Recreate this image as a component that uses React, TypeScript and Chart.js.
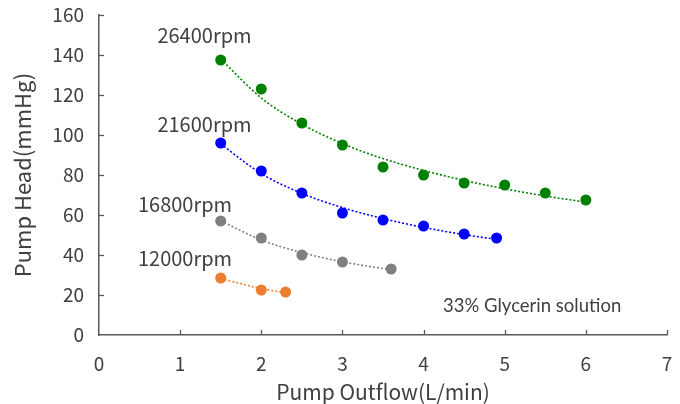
import React, { useEffect, useRef } from "react";
import { Chart, registerables } from "chart.js";

Chart.register(...registerables);

// ---- data ----
const flow26400 = [1.5, 2, 2.5, 3, 3.5, 4, 4.5, 5, 5.5, 6];
const head26400 = [137.5, 123, 106, 95, 84, 80, 76, 75, 71, 67.5];
const trend26400 = [138, 118.5, 105.4, 95.7, 88.2, 82.3, 77.3, 73.1, 69.5, 66.4];

const flow21600 = [1.5, 2, 2.5, 3, 3.5, 4, 4.5, 4.9];
const head21600 = [96, 82, 71, 61, 57.5, 54.5, 50.5, 48.5];
const trend21600 = [95.5, 80.7, 70.8, 63.7, 58.2, 53.8, 50.2, 47.8];

const flow16800 = [1.5, 2, 2.5, 3, 3.6];
const head16800 = [57, 48.5, 40, 36.5, 33];
const trend16800 = [57.1, 47.5, 41.2, 36.6, 32.6];

const flow12000 = [1.5, 2, 2.3];
const head12000 = [28.5, 22.5, 21.5];
const trend12000 = [28.2, 23.2, 21.1];

const seriesNames = ["26400rpm", "21600rpm", "16800rpm", "12000rpm"];
const seriesColors = ["#008000", "#0000ff", "#808080", "#ed7d31"];
const noteText = "33% Glycerin solution";
const xTitle = "Pump Outflow(L/min)";
const yTitle = "Pump Head(mmHg)";

const TEXT = "#404040";
const AXIS = "#595959";
const JP = "'Noto Sans CJK JP', 'Noto Sans', sans-serif";

const toPts = (xs: number[], ys: number[]) => xs.map((x, i) => ({ x, y: ys[i] }));

export default function App() {
  const ref = useRef<HTMLCanvasElement | null>(null);

  useEffect(() => {
    document.body.style.margin = "0";
    const canvas = ref.current;
    if (!canvas) return;

    const groups = [
      [flow26400, head26400, trend26400],
      [flow21600, head21600, trend21600],
      [flow16800, head16800, trend16800],
      [flow12000, head12000, trend12000],
    ];

    const datasets: any[] = [];
    groups.forEach(([xs, ys, ts], i) => {
      datasets.push({
        label: seriesNames[i] + " trend",
        data: toPts(xs, ts),
        showLine: true,
        borderColor: seriesColors[i],
        borderWidth: 1.6,
        borderDash: [2, 2],
        pointRadius: 0,
        cubicInterpolationMode: "monotone",
        fill: false,
        order: 2,
      });
      datasets.push({
        label: seriesNames[i],
        data: toPts(xs, ys),
        showLine: false,
        backgroundColor: seriesColors[i],
        borderColor: seriesColors[i],
        pointRadius: 5.5,
        pointBorderWidth: 0,
        order: 1,
      });
    });

    const labelFont = `20px ${JP}`;
    // label anchors in data coordinates
    const annotations: [string, number, number, string][] = [
      [seriesNames[0], 0.72, 150, labelFont],
      [seriesNames[1], 0.72, 105.5, labelFont],
      [seriesNames[2], 0.48, 65.5, labelFont],
      [seriesNames[3], 0.48, 38.5, labelFont],
      [noteText, 4.24, 14.5, `18.5px Lato, 'Open Sans', sans-serif`],
    ];

    const textPlugin = {
      id: "textAndTicks",
      afterDraw(chart: any) {
        const ctx = chart.ctx;
        const xs = chart.scales.x;
        const ys = chart.scales.y;
        ctx.save();
        // inward tick marks
        ctx.strokeStyle = AXIS;
        ctx.lineWidth = 1.3;
        const y0 = ys.getPixelForValue(0);
        const x0 = xs.getPixelForValue(0);
        for (let v = 1; v <= 7; v++) {
          const px = Math.round(xs.getPixelForValue(v)) + 0.5;
          ctx.beginPath();
          ctx.moveTo(px, y0);
          ctx.lineTo(px, y0 - 5);
          ctx.stroke();
        }
        for (let v = 20; v <= 160; v += 20) {
          const py = Math.round(ys.getPixelForValue(v)) + 0.5;
          ctx.beginPath();
          ctx.moveTo(x0, py);
          ctx.lineTo(x0 + 5, py);
          ctx.stroke();
        }
        // text annotations
        ctx.fillStyle = TEXT;
        ctx.textBaseline = "middle";
        ctx.textAlign = "left";
        annotations.forEach(([t, x, y, font]) => {
          ctx.font = font;
          ctx.fillText(t, xs.getPixelForValue(x), ys.getPixelForValue(y));
        });
        ctx.restore();
      },
    };

    const chart = new Chart(canvas, {
      type: "scatter",
      data: { datasets },
      options: {
        animation: false,
        responsive: false,
        maintainAspectRatio: false,
        layout: { padding: { top: 15, right: 13, left: 0, bottom: 0 } },
        plugins: {
          legend: { display: false },
          tooltip: { enabled: false },
        },
        scales: {
          x: {
            type: "linear",
            min: 0,
            max: 7,
            ticks: {
              stepSize: 1,
              color: TEXT,
              font: { family: JP, size: 19 },
              padding: 17,
            },
            grid: { display: true, drawOnChartArea: false, drawTicks: false },
            border: { display: true, color: AXIS, width: 1.5 },
            title: {
              display: true,
              text: xTitle,
              color: TEXT,
              font: { family: JP, size: 21 },
              padding: { top: 0, bottom: -1 },
            },
            afterFit: (s: any) => {
              s.height = 69;
              s.paddingLeft = 0;
              s.paddingRight = 0;
            },
          },
          y: {
            type: "linear",
            min: 0,
            max: 160,
            ticks: {
              stepSize: 20,
              color: TEXT,
              font: { family: JP, size: 19 },
              padding: 15,
            },
            grid: { display: true, drawOnChartArea: false, drawTicks: false },
            border: { display: true, color: AXIS, width: 1.5 },
            title: {
              display: true,
              text: yTitle,
              color: TEXT,
              font: { family: JP, size: 22 },
              padding: { top: 9, bottom: 0 },
            },
            afterFit: (s: any) => {
              s.width = 99;
              s.paddingTop = 0;
              s.paddingBottom = 0;
            },
          },
        },
      },
      plugins: [textPlugin],
    });

    return () => chart.destroy();
  }, []);

  return (
    <div style={{ width: 680, height: 404, background: "#fff" }}>
      <canvas ref={ref} width={680} height={404} style={{ display: "block", width: 680, height: 404 }} />
    </div>
  );
}
